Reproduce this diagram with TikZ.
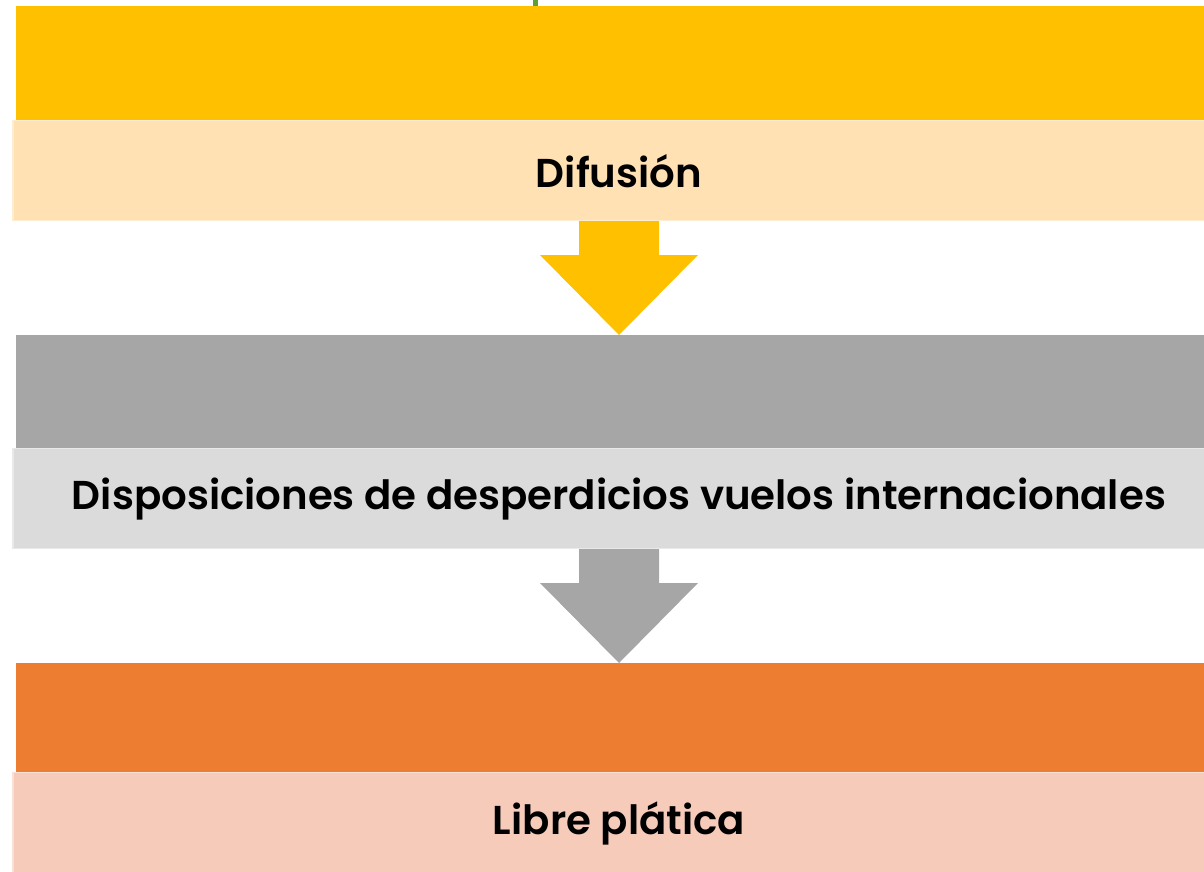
\documentclass[tikz,border=0pt]{standalone}
\usepackage{fontspec}
\setmainfont{Poppins}[BoldFont={* SemiBold}]
\definecolor{yel}{HTML}{FFC000}
\definecolor{yell}{HTML}{FFE1B4}
\definecolor{gry}{HTML}{A6A6A6}
\definecolor{gryl}{HTML}{DBDBDB}
\definecolor{org}{HTML}{ED7D31}
\definecolor{orgl}{HTML}{F6CBBA}
\definecolor{grn}{HTML}{5BA03A}
\tikzset{
  band/.style={fill=#1, draw=none},
  lband/.style={fill=#1, draw=#1!60!white, line width=1.2pt},
  lbl/.style={font=\bfseries\fontsize{40.3}{44}\selectfont, text=black, anchor=center},
  darrow/.style={fill=#1, draw=none}
}
\begin{document}
\begin{tikzpicture}[x=1pt,y=-1pt]
\useasboundingbox (0,0) rectangle (1204,872);
\fill[grn] (533,0) rectangle (538,6);
% band 1
\fill[band=yel] (16,6) rectangle (1210,120);
\filldraw[lband=yell] (13,120.6) rectangle (1210,220.4);
\node[lbl] (t1) at (619,171) {Difusión};
% arrow 1
\fill[darrow=yel] (579,221) -- (659,221) -- (659,255) -- (698,255) -- (619,335) -- (540,255) -- (579,255) -- cycle;
% band 2
\fill[band=gry] (16,335) rectangle (1210,448);
\filldraw[lband=gryl] (13,448.6) rectangle (1210,548.4);
\node[lbl] (t2) at (619,499) {Disposiciones de desperdicios vuelos internacionales};
% arrow 2
\fill[darrow=gry] (579,549) -- (659,549) -- (659,583) -- (698,583) -- (619,663) -- (540,583) -- (579,583) -- cycle;
% band 3
\fill[band=org] (16,663) rectangle (1210,772);
\filldraw[lband=orgl] (13,772.6) rectangle (1210,880);
\node[lbl] (t3) at (619,823) {Libre plática};
\end{tikzpicture}
\end{document}
